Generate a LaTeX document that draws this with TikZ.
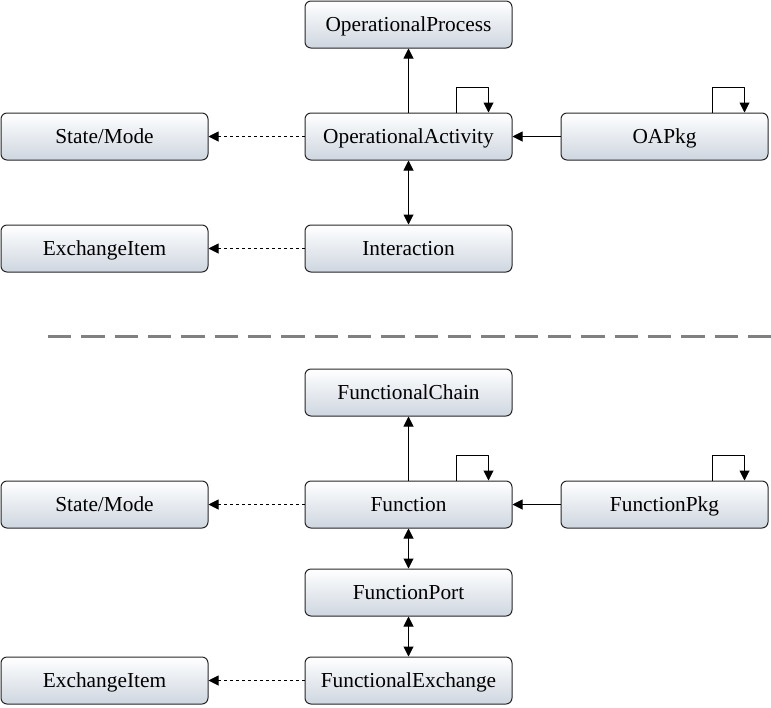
\documentclass[tikz,border=0pt]{standalone}
\usepackage{fontspec}
\setmainfont{Liberation Serif}
\usetikzlibrary{arrows.meta}
\definecolor{boxbottom}{RGB}{206,214,224}
\definecolor{sepgray}{RGB}{128,128,128}
\begin{document}
\begin{tikzpicture}[x=0.75pt,y=-0.75pt,line join=round,>={Triangle[length=7.5pt,width=7.5pt]},
		box/.style={draw=black!85,line width=0.75pt,rounded corners=4.5pt,top color=white,bottom color=boxbottom,
			minimum width=155.25pt,minimum height=35.25pt,inner sep=0pt,text height=12pt,text depth=0.8pt,
			font=\fontsize{16}{19}\selectfont},
		link/.style={line width=0.75pt},
		dep/.style={line width=0.75pt,dash pattern=on 2.25pt off 2.25pt}]
			\useasboundingbox (0,0) rectangle (771,707);
			% operational layer
			\node[box] (oproc) at (408.5,24.5) {OperationalProcess};
			\node[box] (ostate) at (104.5,136.5) {State/Mode};
			\node[box] (oact) at (408.5,136.5) {OperationalActivity};
			\node[box] (oapkg) at (664.5,136.5) {OAPkg};
			\node[box] (oitem) at (104.5,248.5) {ExchangeItem};
			\node[box] (inter) at (408.5,248.5) {Interaction};
			\draw[link,->] (oact) -- (oproc);
			\draw[link,->] ([xshift=36pt]oact.north) -- ++(0,-25) -| ([xshift=60pt]oact.north);
			\draw[link,->] ([xshift=36pt]oapkg.north) -- ++(0,-25) -| ([xshift=60pt]oapkg.north);
			\draw[link,->] (oapkg) -- (oact);
			\draw[dep,->] (oact) -- (ostate);
			\draw[link,<->] (oact) -- (inter);
			\draw[dep,->] (inter) -- (oitem);
			% separator
			\draw[sepgray,line width=2.25pt,dash pattern=on 17.5pt off 7.5pt] (48,336) -- (771,336);
			% functional layer
			\node[box] (fchain) at (408.5,392.5) {FunctionalChain};
			\node[box] (fstate) at (104.5,504.5) {State/Mode};
			\node[box] (func) at (408.5,504.5) {Function};
			\node[box] (fpkg) at (664.5,504.5) {FunctionPkg};
			\node[box] (fport) at (408.5,592.5) {FunctionPort};
			\node[box] (fitem) at (104.5,680.5) {ExchangeItem};
			\node[box] (fexch) at (408.5,680.5) {FunctionalExchange};
			\draw[link,->] (func) -- (fchain);
			\draw[link,->] ([xshift=36pt]func.north) -- ++(0,-25) -| ([xshift=60pt]func.north);
			\draw[link,->] ([xshift=36pt]fpkg.north) -- ++(0,-25) -| ([xshift=60pt]fpkg.north);
			\draw[link,->] (fpkg) -- (func);
			\draw[dep,->] (func) -- (fstate);
			\draw[link,<->] (func) -- (fport);
			\draw[link,<->] (fport) -- (fexch);
			\draw[dep,->] (fexch) -- (fitem);
		\end{tikzpicture}
\end{document}
